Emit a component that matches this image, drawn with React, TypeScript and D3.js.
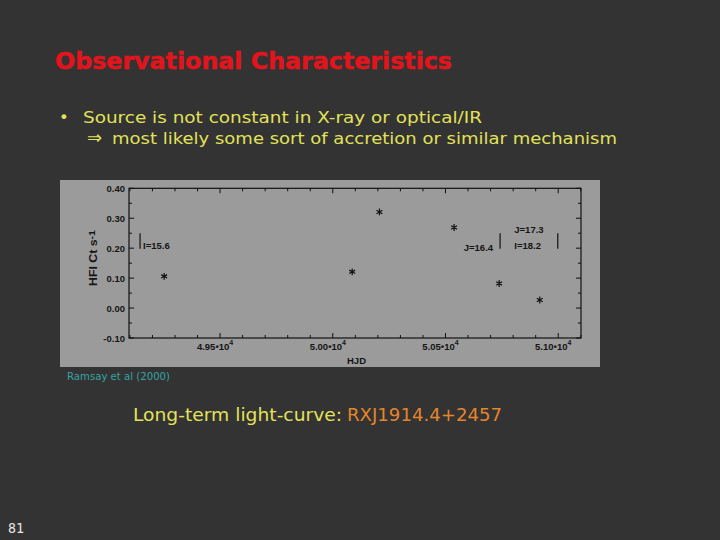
import * as d3 from "d3";
import React from "react";

// light-curve points (HJD, HRI count rate)
const hjd = [49252, 50086, 50207, 50538, 50738, 50918];
const countRate = [0.106, 0.121, 0.321, 0.269, 0.082, 0.027];

// optical / IR magnitude markers
const magHjd = [49145, 50742, 50998];
const magLabels = [["I=15.6"], ["J=16.4"], ["J=17.3", "I=18.2"]];
const magSpan = [0.198, 0.25];

const xTicks = [49500, 50000, 50500, 51000];
const xTickMantissa = ["4.95", "5.00", "5.05", "5.10"];
const yTicks = [-0.1, 0, 0.1, 0.2, 0.3, 0.4];
const yTickLabels = ["-0.10", "0.00", "0.10", "0.20", "0.30", "0.40"];

const W = 720;
const H = 540;
const slideFont = "'DejaVu Sans', Verdana, sans-serif";
const plotFont = "'Liberation Sans', Arial, sans-serif";

const Chart = () => {
  const x = d3.scaleLinear().domain([49096, 51101]).range([129, 581]);
  const y = d3.scaleLinear().domain([-0.1, 0.4]).range([338, 188.3]);
  const [x0, x1] = x.range();
  const [y0, y1] = y.range();

  const xMinor = d3.range(49100, 51101, 100);
  const yMinor = d3.range(-0.1, 0.4001, 0.05);
  const star = d3.symbol().type(d3.symbolAsterisk).size(32)();

  return (
    <g fontFamily={plotFont} fontWeight="bold" fill="#151515">
      <rect x={60} y={180} width={540} height={187} fill="#9b9b9b" />
      <rect x={x0} y={y1} width={x1 - x0} height={y0 - y1} fill="none" stroke="#111" strokeWidth={1.2} />

      {/* x ticks, bottom and top */}
      {xMinor.map((v) => {
        const major = xTicks.includes(v);
        const len = major ? 5 : 3;
        return (
          <g key={"xt" + v} stroke="#111" strokeWidth={1}>
            <line x1={x(v)} x2={x(v)} y1={y0} y2={y0 - len} />
            <line x1={x(v)} x2={x(v)} y1={y1} y2={y1 + len} />
          </g>
        );
      })}
      {/* y ticks, left and right */}
      {yMinor.map((v, i) => {
        const len = i % 2 === 0 ? 5 : 3;
        return (
          <g key={"yt" + i} stroke="#111" strokeWidth={1}>
            <line x1={x0} x2={x0 + len} y1={y(v)} y2={y(v)} />
            <line x1={x1} x2={x1 - len} y1={y(v)} y2={y(v)} />
          </g>
        );
      })}

      {xTicks.map((v, i) => (
        <text key={"xl" + v} x={x(v) - 5} y={350} fontSize={9.5} textAnchor="middle">
          {xTickMantissa[i]}•10
          <tspan dy={-5} fontSize={7}>4</tspan>
        </text>
      ))}
      {yTicks.map((v, i) => (
        <text key={"yl" + i} x={125} y={y(v) + 3.5} fontSize={9.5} textAnchor="end">
          {yTickLabels[i]}
        </text>
      ))}

      <text x={347} y={364} fontSize={9.5}>HJD</text>
      <text transform="translate(97,258) rotate(-90)" fontSize={10.5} textAnchor="middle" textLength={56} lengthAdjust="spacingAndGlyphs">
        HFI Ct s<tspan dy={-2} fontSize={9}>-1</tspan>
      </text>

      {/* magnitude markers */}
      {magHjd.map((v, i) => {
        const bx = x(v);
        const lines = magLabels[i];
        return (
          <g key={"m" + i}>
            <line x1={bx} x2={bx} y1={y(magSpan[1])} y2={y(magSpan[0])} stroke="#111" strokeWidth={1.2} />
            {lines.length === 1 && i === 0 && (
              <text x={bx + 3} y={249} fontSize={9.5}>{lines[0]}</text>
            )}
            {lines.length === 1 && i !== 0 && (
              <text x={bx - 7} y={251} fontSize={9.5} textAnchor="end">{lines[0]}</text>
            )}
            {lines.length === 2 && (
              <>
                <text x={bx - 43.5} y={233} fontSize={9.5}>{lines[0]}</text>
                <text x={bx - 43.5} y={249} fontSize={9.5}>{lines[1]}</text>
              </>
            )}
          </g>
        );
      })}

      {hjd.map((v, i) => (
        <path
          key={"p" + i}
          d={star || ""}
          transform={`translate(${x(v)},${y(countRate[i])})`}
          fill="none"
          stroke="#111"
          strokeWidth={1.2}
        />
      ))}
    </g>
  );
};

export default function App() {
  return (
    <svg
      width={W}
      height={H}
      viewBox={`0 0 ${W} ${H}`}
      style={{ position: "absolute", left: 0, top: 0, display: "block" }}
    >
      <rect width={W} height={H} fill="#333333" />

      <text x={55} y={68.5} fontFamily={slideFont} fontWeight="bold" fontSize={22.5} fill="#e3141c" stroke="#e3141c" strokeWidth={0.4} textLength={397} lengthAdjust="spacingAndGlyphs">
        Observational Characteristics
      </text>

      <g fontFamily={slideFont} fontSize={16.5} fill="#e2e25a">
        <text x={59} y={123.3}>•</text>
        <text x={83} y={123.3} textLength={399} lengthAdjust="spacingAndGlyphs">
          Source is not constant in X-ray or optical/IR
        </text>
        <text x={87} y={144.3} fontSize={18}>⇒</text>
        <text x={112} y={144.3} textLength={505} lengthAdjust="spacingAndGlyphs">
          most likely some sort of accretion or similar mechanism
        </text>
      </g>

      <Chart />

      <text x={67} y={380} fontFamily={slideFont} fontSize={10} fill="#35a3a3" textLength={103} lengthAdjust="spacingAndGlyphs">
        Ramsay et al (2000)
      </text>

      <text x={133} y={421} fontFamily={slideFont} fontSize={17.5} fill="#e2e25a" textLength={209} lengthAdjust="spacingAndGlyphs">
        Long-term light-curve:
      </text>
      <text x={347} y={421} fontFamily={slideFont} fontSize={17.5} fill="#e4852c" textLength={155} lengthAdjust="spacingAndGlyphs">
        RXJ1914.4+2457
      </text>

      <text x={8} y={533} fontFamily="'DejaVu Sans Mono', monospace" fontSize={14} fill="#e6e6e6" textLength={16} lengthAdjust="spacingAndGlyphs">
        81
      </text>
    </svg>
  );
}
